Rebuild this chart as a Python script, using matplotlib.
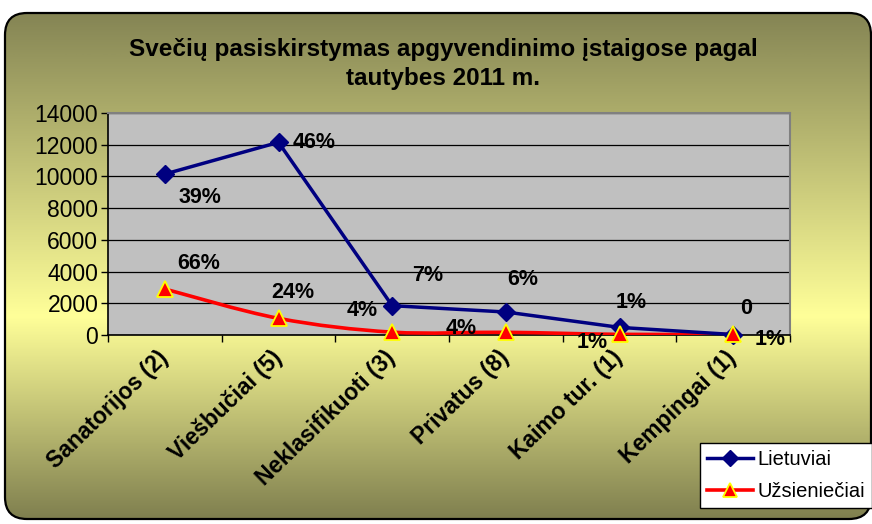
import numpy as np
import matplotlib
matplotlib.use("Agg")
import matplotlib.pyplot as plt
from matplotlib.patches import FancyBboxPatch
from matplotlib.path import Path
from matplotlib.patches import PathPatch
from matplotlib.lines import Line2D

categories = ["Sanatorijos (2)", "Viešbučiai (5)", "Neklasifikuoti (3)",
              "Privatus (8)", "Kaimo tur. (1)", "Kempingai (1)"]
lietuviai = [10150, 12150, 1850, 1450, 480, 30]
uzsienieciai = [2900, 1050, 180, 170, 40, 40]
lt_labels = ["39%", "46%", "7%", "6%", "1%", "0"]
uz_labels = ["66%", "24%", "4%", "4%", "1%", "1%"]
yticks = [0, 2000, 4000, 6000, 8000, 10000, 12000, 14000]
title = "Svečių pasiskirstymas apgyvendinimo įstaigose pagal\ntautybes 2011 m."

plt.rcParams['font.family'] = ['Liberation Sans', 'DejaVu Sans']

W, H = 872, 524
fig = plt.figure(figsize=(W / 100, H / 100), dpi=100)
fig.patch.set_facecolor("white")

# background with gradient and rounded border
bg = fig.add_axes([0, 0, 1, 1], zorder=-10)
bg.set_xlim(0, W)
bg.set_ylim(H, 0)
bg.axis("off")
top_c = np.array([0.52, 0.52, 0.33])
mid_c = np.array([1.0, 1.0, 0.60])
bot_c = np.array([0.50, 0.50, 0.31])
t = np.linspace(0, 1, 256)
cols = np.where(t[:, None] < 0.6,
                top_c + (mid_c - top_c) * (t[:, None] / 0.6),
                mid_c + (bot_c - mid_c) * ((t[:, None] - 0.6) / 0.4))
img = np.repeat(cols[:, None, :], 2, axis=1)
im = bg.imshow(img, extent=(5, 871, 519, 13), aspect="auto", origin="upper")
box = FancyBboxPatch((5, 13), 866, 506, boxstyle="round,pad=0,rounding_size=22",
                     facecolor="none", edgecolor="black", lw=1.6)
bg.add_patch(box)
im.set_clip_path(box)

ax = fig.add_axes([108 / W, 1 - 335 / H, 682 / W, 222 / H])
ax.set_facecolor("#c0c0c0")
x = np.arange(len(categories))
ax.set_xlim(-0.5, len(categories) - 0.5)
ax.set_ylim(0, 14000)
ax.set_yticks(yticks)
ax.set_yticklabels([str(v) for v in yticks], fontsize=16.5)
ax.yaxis.grid(True, color="black", lw=0.9)
ax.set_axisbelow(True)
ax.tick_params(axis="y", direction="out", length=5, width=1, pad=2)
ax.set_xticks(x)
ax.set_xticklabels(categories, rotation=44, ha="right", va="center",
                   rotation_mode="anchor", fontsize=16.5, fontweight="bold")
ax.set_xticks(np.arange(-0.5, len(categories), 1), minor=True)
ax.tick_params(axis="x", which="major", length=0, pad=14)
ax.tick_params(axis="x", which="minor", direction="out", length=5, width=1)
for s in ["left", "bottom"]:
    ax.spines[s].set_color("black")
    ax.spines[s].set_linewidth(1.2)
for s in ["top", "right"]:
    ax.spines[s].set_color("#808080")
    ax.spines[s].set_linewidth(1.5)

# Lietuviai line
ax.plot(x, lietuviai, color="#000080", lw=2.5, marker="D", markersize=9.5,
        markerfacecolor="#000080", markeredgecolor="#000080", zorder=4, clip_on=False)

# Užsieniečiai smoothed line (Catmull-Rom -> Bezier)
pts = np.column_stack([x, uzsienieciai]).astype(float)
verts = [pts[0]]
codes = [Path.MOVETO]
n = len(pts)
for i in range(n - 1):
    p0 = pts[max(i - 1, 0)]
    p1 = pts[i]
    p2 = pts[i + 1]
    p3 = pts[min(i + 2, n - 1)]
    c1 = p1 + (p2 - p0) / 6.0
    c2 = p2 - (p3 - p1) / 6.0
    verts += [c1, c2, p2]
    codes += [Path.CURVE4] * 3
path = Path(verts, codes)
ax.add_patch(PathPatch(path, facecolor="none", edgecolor="#ff0000", lw=2.6, zorder=3))
ax.plot(x, uzsienieciai, linestyle="none", marker="^", markersize=11.5,
        markerfacecolor="#ff0000", markeredgecolor="#ffff00", markeredgewidth=1.3,
        zorder=5, clip_on=False)

lt_off = [(35, -23), (36, 0), (36, 30), (17, 33), (12, 25), (13, 26)]
uz_off = [(34, 26), (14, 26), (-30, 22), (-45, 4), (-27, -8), (37, -5)]
for i in range(n):
    ax.annotate(lt_labels[i], (x[i], lietuviai[i]), xytext=lt_off[i],
                textcoords="offset pixels", ha="center", va="center",
                fontsize=15.5, fontweight="bold", zorder=6, annotation_clip=False)
    ax.annotate(uz_labels[i], (x[i], uzsienieciai[i]), xytext=uz_off[i],
                textcoords="offset pixels", ha="center", va="center",
                fontsize=15.5, fontweight="bold", zorder=6, annotation_clip=False)

fig.text(443 / W, 1 - 64 / H, title, ha="center", va="center", fontsize=17.5,
         fontweight="bold", linespacing=1.3)

handles = [
    Line2D([], [], color="#000080", lw=2.5, marker="D", markersize=8,
           markerfacecolor="#000080", markeredgecolor="#000080"),
    Line2D([], [], color="#ff0000", lw=2.6, marker="^", markersize=10,
           markerfacecolor="#ff0000", markeredgecolor="#ffff00", markeredgewidth=1.3),
]
leg = fig.legend(handles, ["Lietuviai", "Užsieniečiai"], loc="lower left",
                 bbox_to_anchor=(700 / W, 1 - 508 / H), fontsize=14.5,
                 fancybox=False, framealpha=1, edgecolor="black",
                 handlelength=2.3, handletextpad=0.2, borderpad=0.35,
                 labelspacing=0.65, borderaxespad=0)
leg.get_frame().set_linewidth(1.0)

fig.savefig("out.png", dpi=100)
